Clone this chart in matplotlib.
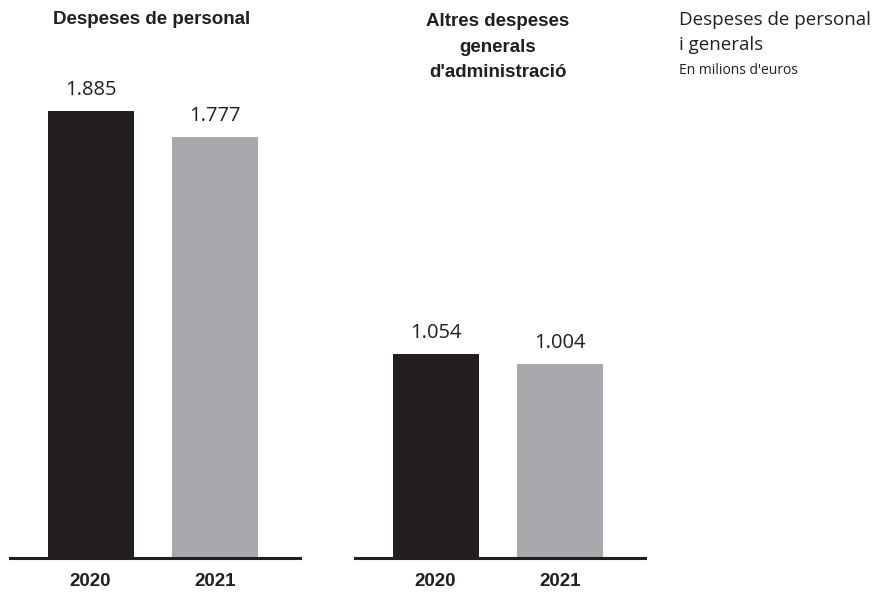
import matplotlib
matplotlib.use("Agg")
import matplotlib.pyplot as plt

years = ["2020", "2021"]
personal = [1885, 1777]
altres = [1054, 1004]
labels_personal = ["1.885", "1.777"]
labels_altres = ["1.054", "1.004"]
colors = ["#231f20", "#a7a9ac"]
title_left = "Despeses de personal"
title_right = "Altres despeses\ngenerals\nd'administració"

plt.rcParams['font.family'] = ['Liberation Sans', 'DejaVu Sans']

fig = plt.figure(figsize=(8.75, 5.96), dpi=100)
W, H = 875, 596
bottom_px, top_px = 558, 100

def make_ax(x0, x1, vals, labs, ylim_top):
    ax = fig.add_axes([x0 / W, 1 - bottom_px / H, (x1 - x0) / W, (bottom_px - top_px) / H])
    xs = list(range(len(vals)))
    ax.bar(xs, vals, width=0.69, color=colors)
    for x, v, l in zip(xs, vals, labs):
        ax.annotate(l, (x, v), xytext=(0, 8), textcoords="offset points",
                    ha="center", va="bottom", fontsize=14.5, color="#231f20",
                    family=["Open Sans", "DejaVu Sans"])
    ax.set_xlim(-0.648, 1.683)
    ax.set_ylim(0, ylim_top)
    for s in ["top", "left", "right"]:
        ax.spines[s].set_visible(False)
    ax.spines["bottom"].set_linewidth(2.2)
    ax.spines["bottom"].set_color("#231f20")
    ax.set_yticks([])
    ax.set_xticks(xs)
    ax.set_xticklabels(years, fontsize=13.5, fontweight="bold", color="#231f20")
    ax.tick_params(axis="x", length=0, pad=11)
    return ax

make_ax(10, 300, personal, labels_personal, (bottom_px - top_px) / 0.2370)
make_ax(355, 645, altres, labels_altres, (bottom_px - top_px) / 0.1934)

fig.text(152 / W, 1 - 20 / H, title_left, ha="center", va="center",
         fontsize=13.5, fontweight="bold", color="#231f20")
fig.text(498 / W, 1 - 47 / H, title_right, ha="center", va="center",
         fontsize=13.5, fontweight="bold", color="#231f20", linespacing=1.65)

fig.text(679 / W, 1 - 20 / H, "Despeses de personal", ha="left", va="center",
         fontsize=13.5, color="#231f20", family=["Open Sans", "DejaVu Sans"])
fig.text(679 / W, 1 - 45 / H, "i generals", ha="left", va="center",
         fontsize=13.5, color="#231f20", family=["Open Sans", "DejaVu Sans"])
fig.text(679 / W, 1 - 70 / H, "En milions d'euros", ha="left", va="center",
         fontsize=10, color="#231f20", family=["Open Sans", "DejaVu Sans"])

fig.savefig("out.png", dpi=100)
